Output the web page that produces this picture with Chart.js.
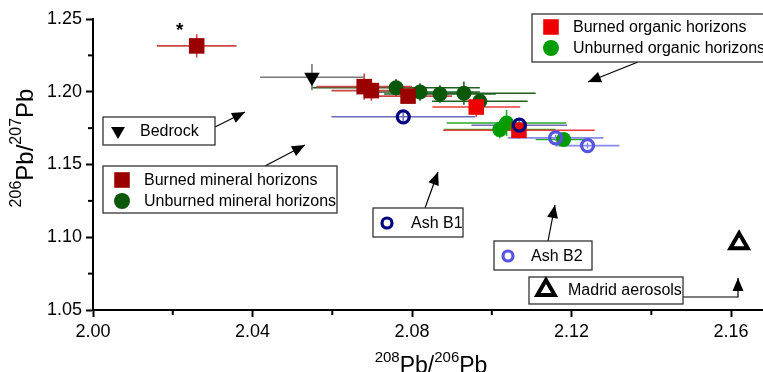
<!DOCTYPE html>
<html>
<head>
<meta charset="utf-8">
<script src="https://cdn.jsdelivr.net/npm/chart.js@4.4.1/dist/chart.umd.min.js"></script>
<style>
  body { margin: 0; background: #fff; }
  canvas { display: block; }
</style>
</head>
<body>
<canvas id="chart" width="763" height="372"></canvas>
<script>
// ---- data (208Pb/206Pb on x, 206Pb/207Pb on y, with +/- errors) ----
const burnedMineralX    = [2.0260, 2.0680, 2.0698, 2.0790];
const burnedMineralY    = [1.2315, 1.2035, 1.2008, 1.1970];
const burnedMineralXErr = [0.010, 0.012, 0.010, 0.011];
const burnedMineralYErr = [0.008, 0.009, 0.007, 0.005];

const unburnedMineralX    = [2.0760, 2.0820, 2.0870, 2.0930, 2.0970];
const unburnedMineralY    = [1.2027, 1.1998, 1.1985, 1.1990, 1.1935];
const unburnedMineralXErr = [0.021, 0.015, 0.014, 0.018, 0.012];
const unburnedMineralYErr = [0.006, 0.006, 0.006, 0.008, 0.005];

const burnedOrganicX    = [2.0961, 2.1068];
const burnedOrganicY    = [1.1895, 1.1735];
const burnedOrganicXErr = [0.011, 0.019];
const burnedOrganicYErr = [0.007, 0.006];

const unburnedOrganicX    = [2.1020, 2.1037, 2.1180];
const unburnedOrganicY    = [1.1740, 1.1785, 1.1672];
const unburnedOrganicXErr = [0.014, 0.015, 0.007];
const unburnedOrganicYErr = [0.006, 0.009, 0.004];

const ashB1X    = [2.0778, 2.1069];
const ashB1Y    = [1.1828, 1.1770];
const ashB1XErr = [0.018, 0.012];
const ashB1YErr = [0.003, 0.003];

const ashB2X    = [2.1160, 2.1240];
const ashB2Y    = [1.1683, 1.1630];
const ashB2XErr = [0.012, 0.008];
const ashB2YErr = [0.002, 0.002];

const bedrockX    = [2.0549];
const bedrockY    = [1.2100];
const bedrockXErr = [0.013];
const bedrockYErr = [0.009];

const madridX = [2.1620];
const madridY = [1.0958];

const xTicks = [2.00, 2.04, 2.08, 2.12, 2.16];
const xMinorTicks = [2.02, 2.06, 2.10, 2.14];
const yTicks = [1.05, 1.10, 1.15, 1.20, 1.25];
const yMinorTicks = [1.075, 1.125, 1.175, 1.225];

const FONT = '"Liberation Sans", Arial, sans-serif';

// marker looks, shared by the plot and the label boxes
const styles = {
  burnedMineral:   { pointStyle: 'rect', radius: 11, rotation: 0, fill: '#9b0000', stroke: '#9b0000', borderWidth: 0, err: '#c84848' },
  unburnedMineral: { pointStyle: 'circle', radius: 7.5, rotation: 0, fill: '#0b580b', stroke: '#0b580b', borderWidth: 0, err: '#1f5f1f' },
  burnedOrganic:   { pointStyle: 'rect', radius: 11, rotation: 0, fill: '#ee0000', stroke: '#ee0000', borderWidth: 0, err: '#ee3a3a' },
  unburnedOrganic: { pointStyle: 'circle', radius: 7.5, rotation: 0, fill: '#009c00', stroke: '#009c00', borderWidth: 0, err: '#22aa22' },
  ashB1:   { pointStyle: 'circle', radius: 6, rotation: 0, fill: 'rgba(0,0,0,0)', stroke: '#000080', borderWidth: 3.2, err: '#6a6ab8' },
  ashB2:   { pointStyle: 'circle', radius: 6, rotation: 0, fill: 'rgba(0,0,0,0)', stroke: '#5555e0', borderWidth: 3.2, err: '#8a8ae8' },
  bedrock: { pointStyle: 'triangle', radius: 9, rotation: 180, fill: '#000', stroke: '#000', borderWidth: 0, err: '#777777' },
  madrid:  { pointStyle: 'triangle', radius: 10, rotation: 0, fill: '#fff', stroke: '#000', borderWidth: 4, err: '#000' }
};

function points(xs, ys, xe, ye) {
  return xs.map((x, i) => ({ x: x, y: ys[i], xErr: xe ? xe[i] : 0, yErr: ye ? ye[i] : 0 }));
}

function dataset(label, key, data) {
  const s = styles[key];
  return {
    label: label,
    data: data,
    pointStyle: s.pointStyle,
    pointRadius: s.radius,
    pointHoverRadius: s.radius,
    pointRotation: s.rotation,
    pointBackgroundColor: s.fill,
    pointBorderColor: s.stroke,
    pointBorderWidth: s.borderWidth,
    errColor: s.err,
    showLine: false
  };
}

// first in list is drawn on top
const datasets = [
  dataset('Madrid aerosols', 'madrid', points(madridX, madridY)),
  dataset('Bedrock', 'bedrock', points(bedrockX, bedrockY, bedrockXErr, bedrockYErr)),
  dataset('Ash B1', 'ashB1', points(ashB1X, ashB1Y, ashB1XErr, ashB1YErr)),
  dataset('Ash B2', 'ashB2', points(ashB2X, ashB2Y, ashB2XErr, ashB2YErr)),
  dataset('Burned organic horizons', 'burnedOrganic', points(burnedOrganicX, burnedOrganicY, burnedOrganicXErr, burnedOrganicYErr)),
  dataset('Burned mineral horizons', 'burnedMineral', points(burnedMineralX, burnedMineralY, burnedMineralXErr, burnedMineralYErr)),
  dataset('Unburned organic horizons', 'unburnedOrganic', points(unburnedOrganicX, unburnedOrganicY, unburnedOrganicXErr, unburnedOrganicYErr)),
  dataset('Unburned mineral horizons', 'unburnedMineral', points(unburnedMineralX, unburnedMineralY, unburnedMineralXErr, unburnedMineralYErr))
];

// label boxes drawn over the plot (pixel layout)
const boxes = [
  { x: 532, y: 14, w: 240, h: 48, mx: 551, tx: 573, rows: [['burnedOrganic', 'Burned organic horizons', 27], ['unburnedOrganic', 'Unburned organic horizons', 48]] },
  { x: 103, y: 117, w: 112, h: 28, mx: 118, tx: 140, rows: [['bedrock', 'Bedrock', 131]] },
  { x: 103, y: 166, w: 234, h: 47, mx: 122, tx: 144, rows: [['burnedMineral', 'Burned mineral horizons', 180], ['unburnedMineral', 'Unburned mineral horizons', 201]] },
  { x: 373, y: 208, w: 90, h: 29, mx: 387, tx: 411, rows: [['ashB1', 'Ash B1', 223]] },
  { x: 494, y: 241, w: 98, h: 29, mx: 508, tx: 531, rows: [['ashB2', 'Ash B2', 256]] },
  { x: 529, y: 277, w: 154, h: 27, mx: 546, tx: 568, rows: [['madrid', 'Madrid aerosols', 290]] }
];
const boxMarkerSize = { burnedOrganic: 11, unburnedOrganic: 8, bedrock: 8, burnedMineral: 11, unburnedMineral: 8, ashB1: 5, ashB2: 5, madrid: 10 };

const arrows = [
  [[638, 62], [588, 82]],
  [[215, 127], [245, 112]],
  [[265, 166], [305, 145]],
  [[425, 208], [438, 172]],
  [[548, 241], [555, 205]],
  [[683, 297], [738, 297], [738, 278]]
];

function drawArrow(ctx, pts) {
  ctx.beginPath();
  ctx.moveTo(pts[0][0], pts[0][1]);
  for (let i = 1; i < pts.length; i++) ctx.lineTo(pts[i][0], pts[i][1]);
  ctx.stroke();
  const [x1, y1] = pts[pts.length - 2];
  const [x2, y2] = pts[pts.length - 1];
  const a = Math.atan2(y2 - y1, x2 - x1);
  const len = 13, half = 5.5;
  ctx.beginPath();
  ctx.moveTo(x2, y2);
  ctx.lineTo(x2 - len * Math.cos(a) - half * Math.sin(a), y2 - len * Math.sin(a) + half * Math.cos(a));
  ctx.lineTo(x2 - len * Math.cos(a) + half * Math.sin(a), y2 - len * Math.sin(a) - half * Math.cos(a));
  ctx.closePath();
  ctx.fill();
}

// text with superscript parts, centred on (cx, baseline)
function drawRich(ctx, parts, cx, baseline, size) {
  const big = size + 'px ' + FONT, small = Math.round(size * 0.65) + 'px ' + FONT;
  let total = 0;
  parts.forEach(p => { ctx.font = p.sup ? small : big; total += ctx.measureText(p.t).width; });
  let x = cx - total / 2;
  ctx.textAlign = 'left';
  ctx.textBaseline = 'alphabetic';
  parts.forEach(p => {
    ctx.font = p.sup ? small : big;
    ctx.fillText(p.t, x, p.sup ? baseline - size * 0.48 : baseline);
    x += ctx.measureText(p.t).width;
  });
}

const errorBars = {
  id: 'errorBars',
  beforeDatasetsDraw(chart) {
    const { ctx, scales: { x, y } } = chart;
    ctx.save();
    ctx.lineWidth = 1.6;
    for (let d = chart.data.datasets.length - 1; d >= 0; d--) {
      const ds = chart.data.datasets[d];
      ctx.strokeStyle = ds.errColor;
      ds.data.forEach(p => {
        const px = x.getPixelForValue(p.x), py = y.getPixelForValue(p.y);
        if (p.xErr) {
          ctx.beginPath();
          ctx.moveTo(x.getPixelForValue(p.x - p.xErr), py);
          ctx.lineTo(x.getPixelForValue(p.x + p.xErr), py);
          ctx.stroke();
        }
        if (p.yErr) {
          ctx.beginPath();
          ctx.moveTo(px, y.getPixelForValue(p.y - p.yErr));
          ctx.lineTo(px, y.getPixelForValue(p.y + p.yErr));
          ctx.stroke();
        }
      });
    }
    ctx.restore();
  }
};

const extras = {
  id: 'extras',
  afterDraw(chart) {
    const { ctx, scales: { x, y } } = chart;
    ctx.save();
    // minor ticks
    ctx.strokeStyle = '#000';
    ctx.lineWidth = 2;
    xMinorTicks.forEach(v => {
      const px = x.getPixelForValue(v);
      ctx.beginPath(); ctx.moveTo(px, x.top); ctx.lineTo(px, x.top + 5); ctx.stroke();
    });
    yMinorTicks.forEach(v => {
      const py = y.getPixelForValue(v);
      ctx.beginPath(); ctx.moveTo(y.right, py); ctx.lineTo(y.right - 5, py); ctx.stroke();
    });

    // asterisk over the outlier
    ctx.fillStyle = '#000';
    ctx.font = 'bold 19px ' + FONT;
    ctx.textAlign = 'center';
    ctx.textBaseline = 'middle';
    ctx.fillText('*', x.getPixelForValue(burnedMineralX[0]) - 17, y.getPixelForValue(burnedMineralY[0]) - 15);

    // arrows
    ctx.strokeStyle = '#000';
    ctx.fillStyle = '#000';
    ctx.lineWidth = 1.2;
    arrows.forEach(a => drawArrow(ctx, a));

    // label boxes
    boxes.forEach(b => {
      ctx.fillStyle = '#fff';
      ctx.fillRect(b.x, b.y, b.w, b.h);
      ctx.strokeStyle = '#333';
      ctx.lineWidth = 1.3;
      ctx.strokeRect(b.x, b.y, b.w, b.h);
      b.rows.forEach(([key, text, cy]) => {
        const s = styles[key];
        ctx.fillStyle = s.fill;
        ctx.strokeStyle = s.stroke;
        ctx.lineWidth = s.borderWidth;
        Chart.helpers.drawPoint(ctx, { pointStyle: s.pointStyle, radius: boxMarkerSize[key], rotation: s.rotation, borderWidth: s.borderWidth }, b.mx, cy);
        ctx.fillStyle = '#000';
        ctx.font = '16px ' + FONT;
        ctx.textAlign = 'left';
        ctx.textBaseline = 'middle';
        ctx.fillText(text, b.tx, cy + 1);
      });
    });

    // axis titles
    ctx.fillStyle = '#000';
    drawRich(ctx, [{ t: '208', sup: true }, { t: 'Pb/' }, { t: '206', sup: true }, { t: 'Pb' }], 431, 373, 23);
    ctx.translate(33, 148);
    ctx.rotate(-Math.PI / 2);
    drawRich(ctx, [{ t: '206', sup: true }, { t: 'Pb/' }, { t: '207', sup: true }, { t: 'Pb' }], 0, 0, 24);
    ctx.restore();
  }
};

new Chart(document.getElementById('chart').getContext('2d'), {
  type: 'scatter',
  data: { datasets: datasets },
  options: {
    responsive: false,
    animation: false,
    devicePixelRatio: 1,
    layout: { autoPadding: false, padding: { top: 19, right: 0, left: 0, bottom: 0 } },
    plugins: { legend: { display: false }, tooltip: { enabled: false } },
    scales: {
      x: {
        type: 'linear',
        min: 2.0,
        max: 2.168,
        afterBuildTicks: s => { s.ticks = xTicks.map(v => ({ value: v })); },
        afterFit: s => { s.height = 62; s.paddingLeft = 0; s.paddingRight = 0; },
        ticks: { color: '#000', font: { family: FONT, size: 18 }, padding: 4, callback: v => v.toFixed(2) },
        grid: { drawOnChartArea: false, tickLength: 7, tickWidth: 2, tickColor: '#000' },
        border: { display: true, color: '#000', width: 2 }
      },
      y: {
        type: 'linear',
        min: 1.05,
        max: 1.25,
        afterBuildTicks: s => { s.ticks = yTicks.map(v => ({ value: v })); },
        afterFit: s => { s.width = 93; s.paddingTop = 0; s.paddingBottom = 0; },
        ticks: { color: '#000', font: { family: FONT, size: 18 }, padding: 4, callback: v => v.toFixed(2) },
        grid: { drawOnChartArea: false, tickLength: 7, tickWidth: 2, tickColor: '#000' },
        border: { display: true, color: '#000', width: 2 }
      }
    }
  },
  plugins: [errorBars, extras]
});
</script>
</body>
</html>
